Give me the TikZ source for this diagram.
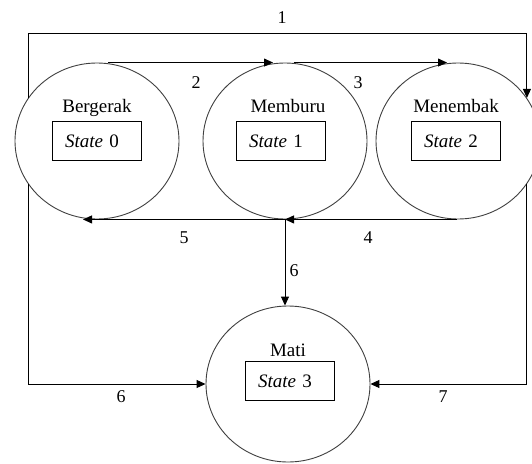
\documentclass[tikz,border=0pt]{standalone}
\usepackage{fontspec}
\setmainfont{Liberation Serif}
\usetikzlibrary{arrows.meta,shapes.geometric}
\begin{document}
\begin{tikzpicture}[x=1pt,y=-1pt,
  statering/.style={ellipse,draw=black!75,line width=0.9pt,fill=white,
    minimum width=164pt,minimum height=156pt,inner sep=0pt},
  statename/.style={font=\fontsize{19}{22}\selectfont,inner sep=0pt,anchor=base},
  statebox/.style={draw,line width=0.9pt,minimum height=39pt,text width=64pt,
    inner xsep=12.5pt,inner ysep=0pt,align=left,font=\fontsize{19}{22}\selectfont},
  flow/.style={line width=0.95pt,-{Triangle[length=9pt,width=8pt]}},
  num/.style={font=\fontsize{18}{22}\selectfont,inner sep=0pt}]
\path[use as bounding box] (0,0) rectangle (532,463);

% state rings
\node[statering] (c0) at (97,141) {};
\node[statering] (c1) at (285,141) {};
\node[statering] (c2) at (458,141) {};
\node[statering] (c3) at (288,384) {};

% state names and numbered boxes
\node[statename] (n0) at (97,112) {Bergerak};
\node[statebox] (b0) at (97,141) {\textit{State} 0};
\node[statename] (n1) at (288,112) {Memburu};
\node[statebox] (b1) at (281,141) {\textit{State} 1};
\node[statename] (n2) at (456,112) {Menembak};
\node[statebox] (b2) at (456,141) {\textit{State} 2};
\node[statename] (n3) at (288,356) {Mati};
\node[statebox] (b3) at (290,381) {\textit{State} 3};

% transitions
\coordinate (topy) at (0,33);
\draw[flow] (c0.148) -- (c0.148 |- topy) -| (c2.32);
\draw[flow] ([xshift=11pt]c0.north) -- ([xshift=-12pt]c1.north);
\draw[flow] ([xshift=9pt]c1.north) -- ([xshift=-11pt]c2.north);
\draw[flow] ([xshift=-1pt]c2.south) -- (c1.south);
\draw[flow] (c1.south) -- ([xshift=-14pt]c0.south);
\draw[flow] (c1.south) -- (c1.south |- c3.north);
\draw[flow] (c0.212) |- (c3.west);
\draw[flow] (c2.328) |- (c3.east);

% transition numbers
\node[num] (t1) at (282,18) {1};
\node[num] (t2) at (196,83) {2};
\node[num] (t3) at (358,83) {3};
\node[num] (t5) at (184,238) {5};
\node[num] (t4) at (368,238) {4};
\node[num] (t6a) at (294,271) {6};
\node[num] (t6b) at (121,397) {6};
\node[num] (t7) at (443,397) {7};
\end{tikzpicture}
\end{document}
